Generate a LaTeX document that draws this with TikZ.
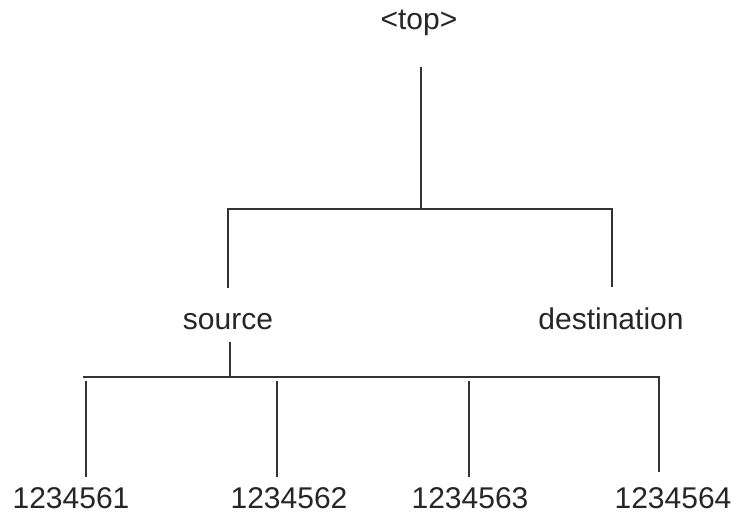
\documentclass[tikz,border=0pt]{standalone}
\usepackage{fontspec}
\setmainfont{Liberation Sans}
\begin{document}
\begin{tikzpicture}[x=1pt,y=-1pt,
  lbl/.style={anchor=base,inner sep=0pt,font=\fontsize{30}{36}\selectfont,text=black!85},
  wire/.style={line width=2pt,draw=black!80}]
\useasboundingbox[fill=white] (0,0) rectangle (739,514);
% text nodes
\node[lbl] (top) at (419,29) {<top>};
\node[lbl] (src) at (228,329) {source};
\node[lbl] (dst) at (611,329) {destination};
\node[lbl] (n1) at (71,508) {1234561};
\node[lbl] (n2) at (289,508) {1234562};
\node[lbl] (n3) at (470,508) {1234563};
\node[lbl] (n4) at (673,508) {1234564};
% junctions
\coordinate (t0) at (421,67);
\coordinate (t1) at (421,209);
\coordinate (hl) at (228,209);
\coordinate (hr) at (612,209);
\coordinate (se) at (228,288);
\coordinate (de) at (612,287);
\coordinate (s0) at (230,342);
\coordinate (s1) at (230,377);
\coordinate (bl) at (83,377);
\coordinate (br) at (659,377);
\coordinate (a1) at (86,381);  \coordinate (b1) at (86,477);
\coordinate (a2) at (277,381); \coordinate (b2) at (277,477);
\coordinate (a3) at (469,381); \coordinate (b3) at (469,477);
\coordinate (b4) at (659,472);
% connectors
\draw[wire] (t0) -- (t1);
\draw[wire] (se) -- (hl) -- (hr) -- (de);
\draw[wire] (s0) -- (s1);
\draw[wire] (bl) -- (br) -- (b4);
\draw[wire] (a1) -- (b1);
\draw[wire] (a2) -- (b2);
\draw[wire] (a3) -- (b3);
\end{tikzpicture}
\end{document}
